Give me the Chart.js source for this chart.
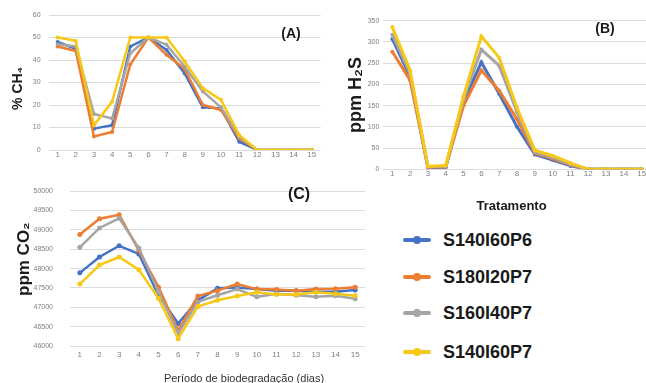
<!DOCTYPE html>
<html>
<head>
<meta charset="utf-8">
<script src="https://cdn.jsdelivr.net/npm/chart.js"></script>
<style>
  body { margin: 0; width: 646px; height: 383px; overflow: hidden; background: #fff; position: relative;
         font-family: 'Liberation Sans', Arial, sans-serif; }
  canvas { position: absolute; }
  .tag { position: absolute; font-weight: bold; color: #1a1a1a; transform: translate(-50%, -50%); white-space: nowrap; }
  .xtitle { position: absolute; font-size: 11px; color: #333; transform: translate(-50%, -50%); white-space: nowrap; }
  .leg { position: absolute; left: 403px; height: 24px; display: flex; align-items: center; transform: translateY(-50%); }
  .leg .mk { position: relative; width: 28px; height: 4px; border-radius: 2px; margin-right: 12px; }
  .leg .mk::after { content: ''; position: absolute; left: 10px; top: -2px; width: 8px; height: 8px; border-radius: 50%; background: inherit; }
  .leg span { font-size: 18px; font-weight: bold; color: #1a1a1a; }
</style>
</head>
<body>
<canvas id="chA" width="330" height="170" style="left:0;top:0"></canvas>
<canvas id="chB" width="330" height="220" style="left:330px;top:0"></canvas>
<canvas id="chC" width="372" height="200" style="left:0;top:170px"></canvas>
<div class="tag" style="left:291px;top:33px;font-size:14px">(A)</div>
<div class="tag" style="left:605px;top:28px;font-size:14px">(B)</div>
<div class="tag" style="left:299px;top:194px;font-size:16px">(C)</div>
<div class="xtitle" style="left:244px;top:378px">Período de biodegradação (dias)</div>
<div id="legend"></div>
<script>
// categories (days)
const days = ['1','2','3','4','5','6','7','8','9','10','11','12','13','14','15'];

const seriesNames = ['S140I60P6', 'S180I20P7', 'S160I40P7', 'S140I60P7'];
const seriesColors = ['#4472C4', '#ED7D31', '#A5A5A5', '#F7C815'];

// (A) % CH4
const ch4_S140I60P6 = [48, 45, 9.5, 11, 46, 50, 44.5, 34, 19, 18.5, 3.7, 0, 0, 0, 0];
const ch4_S180I20P7 = [46, 44, 6, 8, 38, 50, 42.3, 36, 20, 17.8, 5.2, 0, 0, 0, 0];
const ch4_S160I40P7 = [47, 46, 16, 14, 43, 50, 46.8, 37, 26, 19, 6, 0, 0, 0, 0];
const ch4_S140I60P7 = [50, 48.5, 11, 21.5, 50, 50, 50, 39.3, 27.5, 22.3, 6.7, 0, 0, 0, 0];

// (B) ppm H2S
const h2s_S140I60P6 = [307, 218, 4, 5, 160, 252, 178, 100, 35, 22, 8, 0, 0, 0, 0];
const h2s_S180I20P7 = [277, 210, 5, 6, 150, 233, 185, 118, 38, 25, 10, 0, 0, 0, 0];
const h2s_S160I40P7 = [317, 225, 6, 7, 165, 282, 244, 135, 40, 28, 12, 0, 0, 0, 0];
const h2s_S140I60P7 = [335, 233, 7, 9, 172, 313, 263, 145, 45, 32, 15, 0, 0, 0, 0];

// (C) ppm CO2
const co2_S140I60P6 = [47890, 48300, 48590, 48380, 47310, 46580, 47180, 47490, 47510, 47470, 47430, 47430, 47400, 47400, 47450];
const co2_S180I20P7 = [48880, 49290, 49390, 48470, 47520, 46400, 47290, 47430, 47600, 47470, 47460, 47430, 47470, 47480, 47520];
const co2_S160I40P7 = [48550, 49050, 49300, 48530, 47400, 46320, 47140, 47310, 47470, 47270, 47350, 47310, 47270, 47300, 47220];
const co2_S140I60P7 = [47600, 48090, 48300, 47970, 47230, 46190, 47020, 47180, 47290, 47390, 47330, 47330, 47390, 47350, 47300];

Chart.defaults.font.family = "'Liberation Sans', Arial, sans-serif";
Chart.defaults.animation = false;

const tickColor = '#808080';
const gridColor = '#dcdcdc';

function sets(arrs, width, radius) {
  return arrs.map((d, i) => ({
    label: seriesNames[i],
    data: d,
    borderColor: seriesColors[i],
    backgroundColor: seriesColors[i],
    borderWidth: width,
    pointRadius: radius,
    pointBorderWidth: 0,
    tension: 0,
    order: 3 - i
  }));
}

function makeChart(id, arrs, o) {
  return new Chart(document.getElementById(id), {
    type: 'line',
    data: { labels: days, datasets: sets(arrs, o.lw, o.pr) },
    options: {
      responsive: false,
      devicePixelRatio: 1,
      layout: { padding: o.pad },
      plugins: { legend: { display: false }, tooltip: { enabled: false } },
      scales: {
        x: {
          offset: true,
          grid: { display: false, drawTicks: false },
          border: { display: false },
          ticks: { color: tickColor, font: { size: 8 }, padding: o.xpad, maxRotation: 0, autoSkip: false },
          title: o.xtitle || { display: false },
          afterFit: s => { s.height = o.xh; }
        },
        y: {
          min: o.min, max: o.max,
          grid: { color: gridColor, drawTicks: false },
          border: { display: false },
          ticks: { stepSize: o.step, color: tickColor, font: { size: 7 }, padding: o.ypad, callback: v => String(v) },
          title: { display: true, text: o.ytitle, color: '#1a1a1a',
                   font: { size: o.yts, weight: 'bold' }, padding: { top: o.ytp, bottom: 0 } },
          afterFit: s => { s.width = o.yw; }
        }
      }
    }
  });
}

makeChart('chA', [ch4_S140I60P6, ch4_S180I20P7, ch4_S160I40P7, ch4_S140I60P7], {
  lw: 2.5, pr: 2, pad: { top: 15, right: 9.2, left: 0, bottom: 0 },
  xpad: 0, xh: 20, min: 0, max: 60, step: 10, ypad: 8, yw: 48.6,
  ytitle: '% CH\u2084   ', yts: 14, ytp: 9.6
});

makeChart('chB', [h2s_S140I60P6, h2s_S180I20P7, h2s_S160I40P7, h2s_S140I60P7], {
  lw: 3, pr: 2, pad: { top: 20.7, right: 9.4, left: 0, bottom: 0 },
  xpad: 0, xh: 50.7, min: 0, max: 350, step: 50, ypad: 4, yw: 53.4,
  xtitle: { display: true, text: 'Tratamento   ', color: '#1a1a1a', font: { size: 13, weight: 'bold' }, padding: { top: 0, bottom: 5.5 } },
  ytitle: 'ppm H\u2082S', yts: 18, ytp: 15.2
});

makeChart('chC', [co2_S140I60P6, co2_S180I20P7, co2_S160I40P7, co2_S140I60P7], {
  lw: 2.5, pr: 2.5, pad: { top: 15, right: 7, left: 0, bottom: 0 },
  xpad: 4, xh: 24, min: 46000, max: 50000, step: 500, ypad: 17, yw: 70,
  ytitle: '    ppm CO\u2082', yts: 17, ytp: 14.3
});

// legend
const legendTops = [240, 277, 313, 352];
document.getElementById('legend').innerHTML = seriesNames.map((n, i) =>
  `<div class="leg" style="top:${legendTops[i]}px"><div class="mk" style="background:${seriesColors[i]}"></div><span>${n}</span></div>`
).join('');
</script>
</body>
</html>
